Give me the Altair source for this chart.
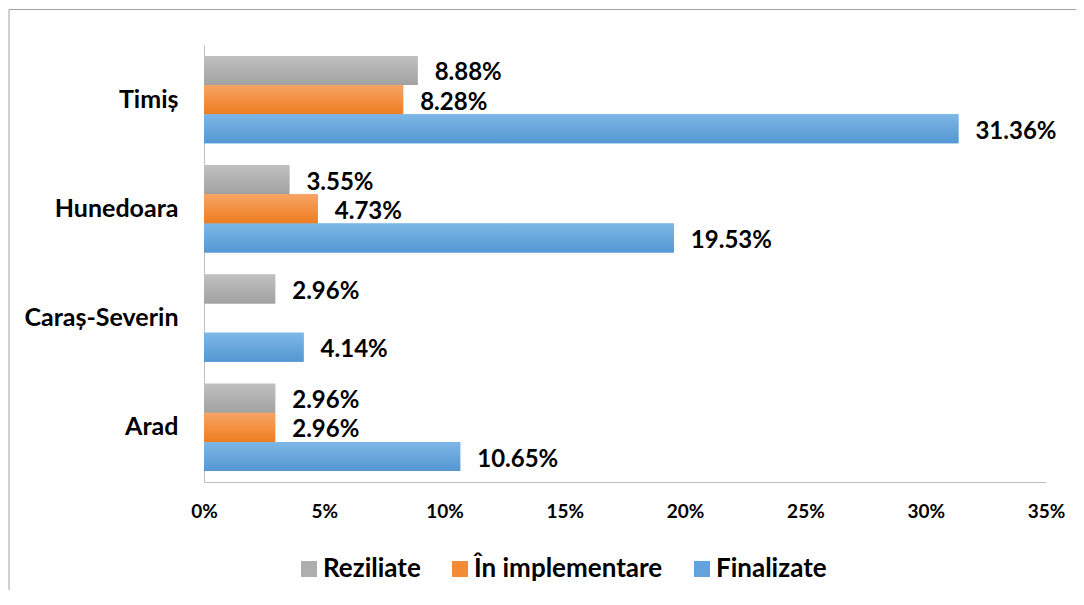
import altair as alt
import pandas as pd

regions = ["Timiș", "Hunedoara", "Caraș-Severin", "Arad"]
series = ["Reziliate", "În implementare", "Finalizate"]
reziliate = [8.88, 3.55, 2.96, 2.96]
implementare = [8.28, 4.73, None, 2.96]
finalizate = [31.36, 19.53, 4.14, 10.65]
x_ticks = [0, 0.05, 0.10, 0.15, 0.20, 0.25, 0.30, 0.35]

solid = ["#AEAEAE", "#F38B35", "#62A3DD"]
grads = {
    "Reziliate": ("#C0C0C0", "#A2A2A2"),
    "În implementare": ("#F8A466", "#EE7D20"),
    "Finalizate": ("#7DB7E7", "#5497D2"),
}

rows = []
for i, r in enumerate(regions):
    for s, vals in zip(series, [reziliate, implementare, finalizate]):
        v = vals[i]
        if v is None:
            continue
        rows.append({"region": r, "series": s, "value": v, "frac": v / 100.0})
df = pd.DataFrame(rows)

FONT = "Lato"

y_enc = alt.Y("region:N", sort=regions, title=None,
              scale=alt.Scale(paddingInner=0.2, paddingOuter=0.1),
              axis=alt.Axis(labelFont=FONT, labelFontWeight="bold", labelFontSize=25,
                            labelColor="#000000", labelPadding=26, ticks=False,
                            labelLimit=300, domainColor="#BFBFBF"))
x_enc = alt.X("frac:Q", title=None,
              scale=alt.Scale(domain=[0, 0.35], nice=False),
              axis=alt.Axis(values=x_ticks, format=".0%", grid=False, ticks=False,
                            labelFlush=False,
                            labelFont=FONT, labelFontWeight="bold", labelFontSize=19,
                            labelColor="#000000", labelPadding=20, domainColor="#BFBFBF"))
yoff = alt.YOffset("series:N", sort=series, scale=alt.Scale(paddingInner=0, paddingOuter=0))

base = alt.Chart(df)

bars = base.mark_bar().encode(
    y=y_enc, x=x_enc, yOffset=yoff,
    color=alt.Color("series:N", sort=series,
                    scale=alt.Scale(domain=series, range=solid),
                    legend=alt.Legend(title=None, orient="none", legendX=92, legendY=511,
                                      direction="horizontal", symbolType="square",
                                      symbolSize=256, symbolStrokeWidth=0,
                                      labelFont=FONT, labelFontWeight="bold",
                                      labelFontSize=26, labelColor="#000000",
                                      labelLimit=400, labelOffset=1, columnPadding=26)),
)

layers = [bars]
for s in series:
    c1, c2 = grads[s]
    g = alt.Gradient(gradient="linear",
                     stops=[alt.GradientStop(color=c1, offset=0),
                            alt.GradientStop(color=c2, offset=1)],
                     x1=0, x2=0, y1=0, y2=1)
    layers.append(
        base.transform_filter(alt.datum.series == s).mark_bar(color=g).encode(
            y=alt.Y("region:N", sort=regions), x="frac:Q",
            yOffset=alt.YOffset("series:N", sort=series))
    )

labels = base.transform_calculate(
    lbl="format(datum.value, '.2f') + '%'"
).mark_text(align="left", baseline="middle", dx=17, dy=3, font=FONT,
            fontWeight="bold", fontSize=24, color="#000000").encode(
    y=alt.Y("region:N", sort=regions), x="frac:Q",
    yOffset=alt.YOffset("series:N", sort=series), text="lbl:N")
layers.append(labels)

frame_data = alt.Data(values=[{"a": 1}])
left_line = alt.Chart(frame_data).mark_rule(color="#A0A0A0", strokeWidth=1).encode(
    x=alt.value(-195), y=alt.value(-35.5), y2=alt.value(560))
top_line = alt.Chart(frame_data).mark_rule(color="#A0A0A0", strokeWidth=1).encode(
    x=alt.value(-195), x2=alt.value(880), y=alt.value(-35.5))
layers += [left_line, top_line]

chart = alt.layer(*layers).properties(
    width=842, height=437,
    autosize=alt.AutoSizeParams(type="none"),
    padding={"left": 196, "top": 37, "right": 30, "bottom": 108},
    background="#FFFFFF",
).configure_view(stroke=None)

chart.save("out.html", embed_options={"renderer": "svg", "actions": False})
